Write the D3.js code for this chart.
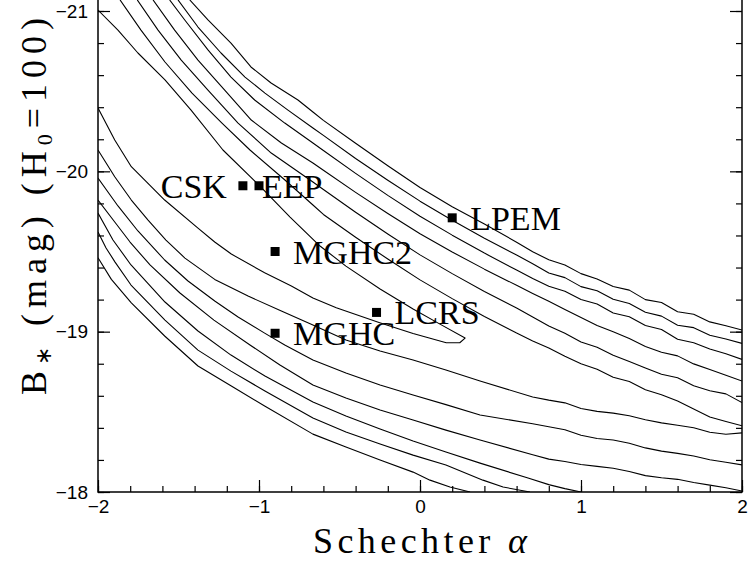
<!DOCTYPE html>
<html>
<head>
<meta charset="utf-8">
<title>Schechter alpha vs B*</title>
<script src="https://cdn.jsdelivr.net/npm/d3@7"></script>
<style>
  html, body { margin: 0; padding: 0; background: #fff; }
  svg { display: block; }
</style>
</head>
<body>
<svg id="chart" width="753" height="563"></svg>
<script>
// survey estimates of (alpha, B*)
const surveyNames = ["CSK", "EEP", "MGHC2", "MGHC", "LCRS", "LPEM"];
const surveyAlpha = [-1.1, -1.0, -0.9, -0.9, -0.27, 0.2];
const surveyMstar = [-19.91, -19.91, -19.5, -18.99, -19.12, -19.71];

// axis ticks
const xMajorTicks = [-2, -1, 0, 1, 2];
const yMajorTicks = [-21, -20, -19, -18];

// likelihood contours, [alpha, B*]
// innermost contour, closes near alpha = 0.28
const contour1 = [
    [-2.0, -21.006], [-1.876, -20.881], [-1.752, -20.738], [-1.584, -20.57], [-1.422, -20.382],
    [-1.224, -20.133], [-0.994, -19.908], [-0.807, -19.715], [-0.621, -19.534], [-0.46, -19.409],
    [-0.248, -19.266], [-0.043, -19.141], [0.124, -19.047], [0.28, -18.96],
    [0.247, -18.931], [0.163, -18.931], [-0.043, -18.989], [-0.25, -19.056], [-0.52, -19.149],
    [-0.665, -19.21], [-0.799, -19.285], [-0.965, -19.367], [-1.172, -19.484], [-1.275, -19.559],
    [-1.379, -19.646], [-1.586, -19.821], [-1.793, -20.029], [-1.896, -20.195], [-2.0, -20.395],
];

// upper branches of the outer contours (2 = next to the innermost)
const upper2 = [
    [-1.863, -21.069], [-1.733, -20.881], [-1.584, -20.682], [-1.416, -20.488], [-1.23, -20.301],
    [-1.056, -20.133], [-0.839, -19.946], [-0.665, -19.79], [-0.6, -19.731], [-0.4, -19.589],
    [-0.2, -19.453], [0, -19.323], [0.2, -19.206], [0.4, -19.095], [0.6, -18.991], [0.7, -18.942],
    [0.8, -18.898], [0.9, -18.846], [1.0, -18.8], [1.1, -18.766], [1.2, -18.716], [1.3, -18.689],
    [1.4, -18.638], [1.5, -18.607], [1.6, -18.567], [1.7, -18.517], [1.8, -18.468], [1.9, -18.44],
    [2.0, -18.413],
];
const upper3 = [
    [-1.756, -21.069], [-1.627, -20.881], [-1.483, -20.694], [-1.317, -20.507], [-1.13, -20.301],
    [-0.924, -20.114], [-0.665, -19.933], [-0.6, -19.887], [-0.4, -19.745], [-0.2, -19.609],
    [0, -19.479], [0.2, -19.362], [0.4, -19.251], [0.6, -19.147], [0.7, -19.091], [0.8, -19.035],
    [0.9, -18.99], [1.0, -18.936], [1.1, -18.903], [1.2, -18.853], [1.3, -18.814], [1.4, -18.773],
    [1.5, -18.734], [1.6, -18.713], [1.7, -18.663], [1.8, -18.632], [1.9, -18.612], [2.0, -18.558],
];
const upper4 = [
    [-1.658, -21.069], [-1.524, -20.881], [-1.379, -20.694], [-1.213, -20.507], [-1.048, -20.32],
    [-0.861, -20.177], [-0.665, -20.052], [-0.6, -20.007], [-0.4, -19.869], [-0.2, -19.737],
    [0, -19.611], [0.2, -19.497], [0.4, -19.39], [0.6, -19.289], [0.7, -19.238], [0.8, -19.189],
    [0.9, -19.138], [1.0, -19.088], [1.1, -19.038], [1.2, -18.999], [1.3, -18.958], [1.4, -18.908],
    [1.5, -18.872], [1.6, -18.849], [1.7, -18.799], [1.8, -18.764], [1.9, -18.728], [2.0, -18.692],
];
const upper5 = [
    [-1.555, -21.069], [-1.461, -20.944], [-1.317, -20.757], [-1.174, -20.588], [-1.027, -20.445],
    [-0.84, -20.301], [-0.665, -20.177], [-0.6, -20.13], [-0.4, -19.987], [-0.2, -19.85],
    [0, -19.72], [0.2, -19.602], [0.4, -19.49], [0.6, -19.384], [0.7, -19.332], [0.8, -19.283],
    [0.9, -19.252], [1.0, -19.201], [1.1, -19.172], [1.2, -19.116], [1.3, -19.093], [1.4, -19.038],
    [1.5, -19.014], [1.6, -18.953], [1.7, -18.931], [1.8, -18.892], [1.9, -18.862], [2.0, -18.827],
];
const upper6 = [
    [-1.503, -21.069], [-1.379, -20.9], [-1.236, -20.738], [-1.087, -20.588], [-0.963, -20.488],
    [-0.82, -20.382], [-0.665, -20.27], [-0.6, -20.224], [-0.4, -20.08], [-0.2, -19.944],
    [0, -19.814], [0.2, -19.695], [0.4, -19.583], [0.6, -19.478], [0.7, -19.424], [0.8, -19.366],
    [0.9, -19.337], [1.0, -19.281], [1.1, -19.255], [1.2, -19.202], [1.3, -19.176], [1.4, -19.121],
    [1.5, -19.097], [1.6, -19.04], [1.7, -19.025], [1.8, -18.978], [1.9, -18.954], [2.0, -18.927],
];
const upper7 = [
    [-1.43, -21.069], [-1.317, -20.944], [-1.174, -20.8], [-1.05, -20.651], [-0.925, -20.551],
    [-0.758, -20.445], [-0.665, -20.37], [-0.6, -20.318], [-0.4, -20.175], [-0.2, -20.035],
    [0, -19.899], [0.2, -19.779], [0.4, -19.671], [0.6, -19.558], [0.7, -19.498], [0.8, -19.449],
    [0.9, -19.416], [1.0, -19.362], [1.1, -19.329], [1.2, -19.282], [1.3, -19.259], [1.4, -19.2],
    [1.5, -19.182], [1.6, -19.124], [1.7, -19.109], [1.8, -19.061], [1.9, -19.037], [2.0, -19.01],
];

// lower branches of the outer contours
const lower2 = [
    [-2.0, -20.133], [-1.896, -19.966], [-1.793, -19.821], [-1.689, -19.696], [-1.578, -19.571],
    [-1.46, -19.459], [-1.275, -19.326], [-1.068, -19.222], [-0.861, -19.129], [-0.665, -19.041],
    [-0.46, -18.948], [-0.248, -18.879], [-0.043, -18.823], [0.161, -18.761], [0.373, -18.692],
    [0.7, -18.593], [0.8, -18.573], [0.9, -18.556], [1.0, -18.521], [1.1, -18.503], [1.2, -18.492],
    [1.3, -18.476], [1.4, -18.451], [1.5, -18.431], [1.6, -18.416], [1.7, -18.401], [1.8, -18.373],
    [1.9, -18.36], [2.0, -18.369],
];
const lower3 = [
    [-2.0, -19.958], [-1.876, -19.784], [-1.752, -19.628], [-1.586, -19.447], [-1.441, -19.316],
    [-1.275, -19.191], [-1.13, -19.091], [-0.965, -18.991], [-0.84, -18.917], [-0.665, -18.823],
    [-0.46, -18.742], [-0.248, -18.667], [-0.043, -18.605], [0.161, -18.545], [0.373, -18.48],
    [0.7, -18.426], [0.8, -18.407], [0.9, -18.388], [1.0, -18.354], [1.1, -18.334], [1.2, -18.324],
    [1.3, -18.304], [1.4, -18.275], [1.5, -18.255], [1.6, -18.241], [1.7, -18.225], [1.8, -18.201],
    [1.9, -18.186], [2.0, -18.169],
];
const lower4 = [
    [-2.0, -19.821], [-1.896, -19.684], [-1.801, -19.559], [-1.677, -19.416], [-1.491, -19.241],
    [-1.28, -19.072], [-1.056, -18.917], [-0.87, -18.792], [-0.665, -18.667], [-0.46, -18.586],
    [-0.248, -18.511], [-0.043, -18.449], [0.161, -18.386], [0.373, -18.324], [0.7, -18.232],
    [0.8, -18.205], [0.9, -18.19], [1.0, -18.172], [1.1, -18.16], [1.2, -18.148], [1.3, -18.128],
    [1.4, -18.102], [1.5, -18.089], [1.6, -18.079], [1.7, -18.059], [1.8, -18.043], [1.9, -18.026],
    [2.0, -18.006],
];
const lower5 = [
    [-2.0, -19.74], [-1.907, -19.572], [-1.795, -19.416], [-1.584, -19.185], [-1.379, -19.004],
    [-1.174, -18.854], [-0.963, -18.723], [-0.665, -18.561], [-0.46, -18.474], [-0.248, -18.393],
    [-0.043, -18.318], [0.161, -18.249], [0.373, -18.18], [0.671, -18.087], [0.8, -18.046],
    [0.9, -18.021], [1.0, -18.0],
];
const lower6 = [
    [-2.0, -19.621], [-1.95, -19.522], [-1.894, -19.434], [-1.795, -19.291], [-1.584, -19.072],
    [-1.379, -18.885], [-1.174, -18.754], [-0.963, -18.63], [-0.665, -18.461], [-0.46, -18.374],
    [-0.248, -18.299], [-0.043, -18.23], [0.161, -18.168], [0.391, -18.074], [0.516, -18.031],
    [0.683, -18.0],
];
const lower7 = [
    [-2.0, -19.461], [-1.917, -19.326], [-1.793, -19.18], [-1.586, -18.973], [-1.379, -18.786],
    [-1.172, -18.661], [-0.965, -18.536], [-0.665, -18.361], [-0.46, -18.28], [-0.248, -18.199],
    [-0.043, -18.124], [0.062, -18.074], [0.186, -18.031], [0.311, -18.0],
];

const contours = [contour1, upper2, upper3, upper4, upper5, upper6, upper7,
    lower2, lower3, lower4, lower5, lower6, lower7];

const width = 753;
const height = 563;
const margin = { top: 0, right: 11, bottom: 71, left: 98 };
const plotRight = width - margin.right;
const plotBottom = height - margin.bottom;

const x = d3.scaleLinear().domain([-2, 2]).range([margin.left, plotRight]);
// -21 sits a little below the top edge; the frame is cut off above it
const y = d3.scaleLinear().domain([-21, -18]).range([11, plotBottom]);

const serif = "'Liberation Serif', 'Times New Roman', serif";
const sans = "'Liberation Sans', Arial, sans-serif";

const svg = d3.select("#chart");

svg.append("defs")
    .append("clipPath")
    .attr("id", "plot-clip")
    .append("rect")
    .attr("x", margin.left)
    .attr("y", margin.top)
    .attr("width", plotRight - margin.left)
    .attr("height", plotBottom - margin.top);

// contours
const line = d3
    .line()
    .x((d) => x(d[0]))
    .y((d) => y(d[1]));

svg.append("g")
    .attr("clip-path", "url(#plot-clip)")
    .selectAll("path")
    .data(contours)
    .enter()
    .append("path")
    .attr("fill", "none")
    .attr("stroke", "#000")
    .attr("stroke-width", 1.1)
    .attr("stroke-linejoin", "round")
    .attr("d", line);

// survey points
const surveys = surveyNames.map((name, i) => ({
    name: name,
    alpha: surveyAlpha[i],
    mstar: surveyMstar[i],
}));

svg.append("g")
    .selectAll("rect")
    .data(surveys)
    .enter()
    .append("rect")
    .attr("x", (d) => x(d.alpha) - 4.5)
    .attr("y", (d) => y(d.mstar) - 4.5)
    .attr("width", 9)
    .attr("height", 9)
    .attr("fill", "#000");

svg.append("g")
    .selectAll("text")
    .data(surveys)
    .enter()
    .append("text")
    .attr("x", (d) => {
        if (d.name === "CSK") return x(d.alpha) - 16;
        if (d.name === "EEP") return x(d.alpha) + 3;
        return x(d.alpha) + 18;
    })
    .attr("y", (d) => y(d.mstar) + 12)
    .attr("text-anchor", (d) => (d.name === "CSK" ? "end" : "start"))
    .attr("font-family", serif)
    .attr("font-size", 34)
    .attr("fill", "#000")
    .text((d) => d.name);

// ticks, all pointing into the plot
const xMinor = d3.range(0, 21).map((i) => -2 + i * 0.2);
const yMinor = d3.range(0, 16).map((i) => -21 + i * 0.2);

const styleAxis = (g) => {
    g.attr("font-family", sans).attr("font-size", 19);
    g.select(".domain").remove();
    g.selectAll(".tick line").attr("stroke", "#000").attr("stroke-width", 1.2);
    g.selectAll(".tick text")
        .attr("fill", "#000")
        .attr("font-family", sans)
        .attr("font-size", 19);
};

svg.append("g")
    .attr("transform", `translate(${margin.left},0)`)
    .call(d3.axisLeft(y).tickValues(yMinor).tickSize(-6).tickFormat(""))
    .call(styleAxis);
svg.append("g")
    .attr("transform", `translate(${margin.left},0)`)
    .call(d3.axisLeft(y).tickValues(yMajorTicks).tickSize(-12).tickPadding(10).tickFormat(d3.format("d")))
    .call(styleAxis);

svg.append("g")
    .attr("transform", `translate(${plotRight},0)`)
    .call(d3.axisRight(y).tickValues(yMinor).tickSize(-6).tickFormat(""))
    .call(styleAxis);
svg.append("g")
    .attr("transform", `translate(${plotRight},0)`)
    .call(d3.axisRight(y).tickValues(yMajorTicks).tickSize(-12).tickFormat(""))
    .call(styleAxis);

svg.append("g")
    .attr("transform", `translate(0,${plotBottom})`)
    .call(d3.axisBottom(x).tickValues(xMinor).tickSize(-6).tickFormat(""))
    .call(styleAxis);
svg.append("g")
    .attr("transform", `translate(0,${plotBottom})`)
    .call(d3.axisBottom(x).tickValues(xMajorTicks).tickSize(-12).tickPadding(8).tickFormat(d3.format("d")))
    .call(styleAxis);

// frame (top edge lies outside the picture)
svg.append("path")
    .attr("d", `M${margin.left},${margin.top}V${plotBottom}H${plotRight}V${margin.top}`)
    .attr("fill", "none")
    .attr("stroke", "#000")
    .attr("stroke-width", 1.5);

// axis titles
const xTitle = svg.append("text")
    .attr("x", x(0))
    .attr("y", 553)
    .attr("text-anchor", "middle")
    .attr("font-family", serif)
    .attr("font-size", 36)
    .attr("fill", "#000")
    .attr("textLength", 214)
    .attr("lengthAdjust", "spacing");
xTitle.append("tspan").text("Schechter ");
xTitle.append("tspan").attr("font-style", "italic").text("α");

const yTitle = svg.append("text")
    .attr("transform", "translate(46,395) rotate(-90)")
    .attr("font-family", serif)
    .attr("font-size", 36)
    .attr("fill", "#000");
yTitle.append("tspan").text("B");
yTitle.append("tspan").attr("font-size", 22).attr("dy", 5).text("∗");
yTitle.append("tspan").attr("dy", -5).text(" (mag) (H");
yTitle.append("tspan").attr("font-size", 22).attr("dy", 6).text("0");
yTitle.append("tspan").attr("dy", -6).text("=100)");

// stretch the rotated title to the length it has in the figure
const natural = yTitle.node().getComputedTextLength();
yTitle.attr("letter-spacing", (383 - natural) / 17);
</script>
</body>
</html>
